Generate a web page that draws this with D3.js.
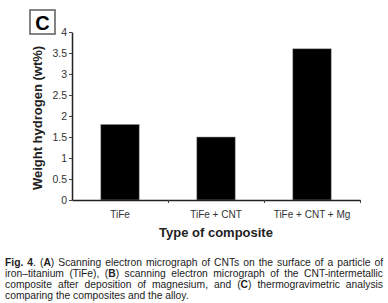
<!DOCTYPE html>
<html>
<head>
<meta charset="utf-8">
<script src="https://cdn.jsdelivr.net/npm/d3@7"></script>
<style>
  body { margin: 0; background: #fff; }
  svg { display: block; font-family: "Liberation Sans", Arial, sans-serif; }
</style>
</head>
<body>
<svg width="388" height="303"></svg>
<script>
const categories = ["TiFe", "TiFe + CNT", "TiFe + CNT + Mg"];
const hydrogen = [1.8, 1.5, 3.6];
const yTicks = [0, 0.5, 1, 1.5, 2, 2.5, 3, 3.5, 4];
const captionLines = [
  [["b", "Fig. 4"], ["n", ". ("], ["b", "A"], ["n", ") Scanning electron micrograph of CNTs on the surface of a particle of"]],
  [["n", "iron\u2013titanium (TiFe), ("], ["b", "B"], ["n", ") scanning electron micrograph of the CNT-intermetallic"]],
  [["n", "composite after deposition of magnesium, and ("], ["b", "C"], ["n", ") thermogravimetric analysis"]],
  [["n", "comparing the composites and the alloy."]]
];

const svg = d3.select("svg");
const margin = {top: 32, left: 72, right: 28, bottom: 103};
const width = +svg.attr("width"), height = +svg.attr("height");
const innerW = width - margin.left - margin.right;
const innerH = height - margin.top - margin.bottom;

const x = d3.scaleBand().domain(categories).range([0, innerW]).paddingInner(0.6).paddingOuter(0.3);
const xb = d3.scaleLinear().domain([0, categories.length]).range([0, innerW]);
const y = d3.scaleLinear().domain([0, 4]).range([innerH, 0]);

const g = svg.append("g").attr("transform", `translate(${margin.left},${margin.top})`);

// bars
g.selectAll("rect.bar").data(categories).enter().append("rect")
  .attr("class", "bar")
  .attr("x", d => x(d))
  .attr("y", (d, i) => y(hydrogen[i]))
  .attr("width", x.bandwidth())
  .attr("height", (d, i) => innerH - y(hydrogen[i]))
  .attr("fill", "#000")
  .attr("stroke", "#999")
  .attr("stroke-width", 0.6);

// y axis
const yAxis = g.append("g")
  .call(d3.axisLeft(y).tickValues(yTicks).tickSize(3).tickSizeOuter(0).tickFormat(d3.format("")));
yAxis.select(".domain").attr("stroke", "#222").attr("stroke-width", 1.5);
yAxis.selectAll(".tick line").attr("stroke", "#444");
yAxis.selectAll(".tick text").attr("font-size", 10.5).attr("fill", "#333").attr("x", -5);

// x axis: ticks at band boundaries
const xAxis = g.append("g").attr("transform", `translate(0,${innerH})`)
  .call(d3.axisBottom(xb).tickValues([1, 2, 3]).tickSize(3).tickSizeOuter(0).tickFormat(""));
xAxis.select(".domain").attr("stroke", "#222").attr("stroke-width", 1.5);
xAxis.selectAll(".tick line").attr("stroke", "#444");

g.selectAll("text.cat").data(categories).enter().append("text")
  .attr("class", "cat")
  .attr("x", d => x(d) + x.bandwidth() / 2)
  .attr("y", innerH + 18)
  .attr("text-anchor", "middle")
  .attr("font-size", 10)
  .attr("fill", "#333")
  .text(d => d);

// axis titles
svg.append("text")
  .attr("x", margin.left + innerW / 2)
  .attr("y", 237)
  .attr("text-anchor", "middle")
  .attr("font-size", 13)
  .attr("font-weight", "bold")
  .attr("fill", "#222")
  .text("Type of composite");

svg.append("text")
  .attr("transform", `translate(42,${margin.top + innerH / 2 + 2}) rotate(-90)`)
  .attr("text-anchor", "middle")
  .attr("font-size", 13)
  .attr("font-weight", "bold")
  .attr("fill", "#222")
  .text("Weight hydrogen (wt%)");

// panel label
svg.append("rect")
  .attr("x", 30).attr("y", 10).attr("width", 25).attr("height", 24)
  .attr("fill", "#fff").attr("stroke", "#666").attr("stroke-width", 1.6);
svg.append("text")
  .attr("x", 42.5).attr("y", 30)
  .attr("text-anchor", "middle")
  .attr("font-size", 20)
  .attr("font-weight", "bold")
  .text("C");

// caption, justified to 5..383
const capLeft = 5, capRight = 383, capTop = 265.5, capStep = 11.1;
captionLines.forEach((line, li) => {
  const t = svg.append("text")
    .attr("x", capLeft)
    .attr("y", capTop + li * capStep)
    .attr("font-size", 10.3)
    .attr("fill", "#222");
  line.forEach(([w, s]) => {
    t.append("tspan").attr("font-weight", w === "b" ? "bold" : "normal").text(s);
  });
  if (li < captionLines.length - 1) {
    const full = line.map(p => p[1]).join("");
    const spaces = (full.match(/ /g) || []).length;
    const tw = t.node().getComputedTextLength();
    if (spaces > 0) t.attr("word-spacing", (capRight - capLeft - tw) / spaces);
  }
});
</script>
</body>
</html>
